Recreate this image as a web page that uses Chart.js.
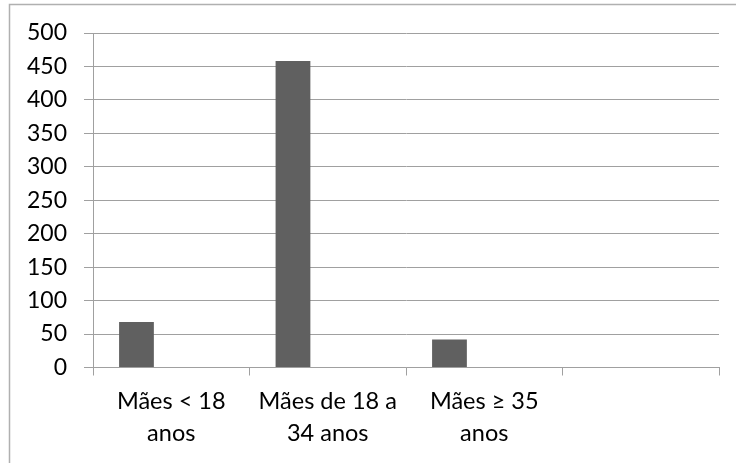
<!DOCTYPE html>
<html>
<head>
<meta charset="utf-8">
<script src="https://cdn.jsdelivr.net/npm/chart.js@4"></script>
<style>
	html, body { margin: 0; padding: 0; background: #fff; }
	#wrap { position: relative; width: 736px; height: 463px; }
</style>
</head>
<body>
<div id="wrap"><canvas id="chart" width="736" height="463"></canvas></div>
<script>
// categories (4th slot is empty in the original)
const categories = [
	[ 'Mães < 18', 'anos' ],
	[ 'Mães de 18 a', '34 anos' ],
	[ 'Mães ≥ 35', 'anos' ],
	'',
];
// only the first series has values, the other two are blank
const seriesA = [ 68, 458, 42, null ];
const seriesB = [ null, null, null, null ];
const seriesC = [ null, null, null, null ];
const yTicks = [ 0, 50, 100, 150, 200, 250, 300, 350, 400, 450, 500 ];

const barColor = '#606060';
const lineColor = '#a0a0a0';
const fontFamily = 'Lato, "Open Sans", sans-serif';

// outer frame of the chart (left and top edge only, rest is cropped)
const framePlugin = {
	id: 'frame',
	beforeDraw( chart ) {
		const c = chart.ctx;
		c.save();
		c.strokeStyle = '#b0b0b0';
		c.lineWidth = 1.5;
		c.beginPath();
		c.moveTo( 9.5, 463 );
		c.lineTo( 9.5, 4.5 );
		c.lineTo( 736, 4.5 );
		c.stroke();
		c.restore();
	},
};

const ds = ( data ) => ( {
	data: data,
	backgroundColor: barColor,
	borderWidth: 0,
	barPercentage: 1,
	categoryPercentage: 3 / 4.5,
} );

// eslint-disable-next-line no-new
new Chart( document.getElementById( 'chart' ), {
	type: 'bar',
	data: {
		labels: categories,
		datasets: [ ds( seriesA ), ds( seriesB ), ds( seriesC ) ],
	},
	options: {
		responsive: false,
		animation: false,
		layout: { padding: { top: 33, right: 17, left: 0, bottom: 0 } },
		plugins: {
			legend: { display: false },
			tooltip: { enabled: false },
		},
		scales: {
			x: {
				offset: true,
				grid: {
					offset: true,
					drawOnChartArea: false,
					drawTicks: true,
					tickLength: 8,
					color: lineColor,
					lineWidth: 1,
				},
				border: { color: lineColor, width: 1 },
				ticks: {
					color: '#000',
					padding: 10,
					maxRotation: 0,
					autoSkip: false,
					font: { family: fontFamily, size: 23.5, lineHeight: 1.36 },
				},
				afterFit( scale ) {
					scale.height = 95.5;
				},
			},
			y: {
				min: 0,
				max: 500,
				afterBuildTicks( scale ) {
					scale.ticks = yTicks.map( v => ( { value: v } ) );
				},
				grid: {
					color: lineColor,
					lineWidth: 1,
					tickLength: 9,
				},
				border: { color: lineColor, width: 1 },
				ticks: {
					color: '#000',
					padding: 17,
					font: { family: fontFamily, size: 23 },
				},
				afterFit( scale ) {
					scale.width = 93;
				},
			},
		},
	},
	plugins: [ framePlugin ],
} );
</script>
</body>
</html>
